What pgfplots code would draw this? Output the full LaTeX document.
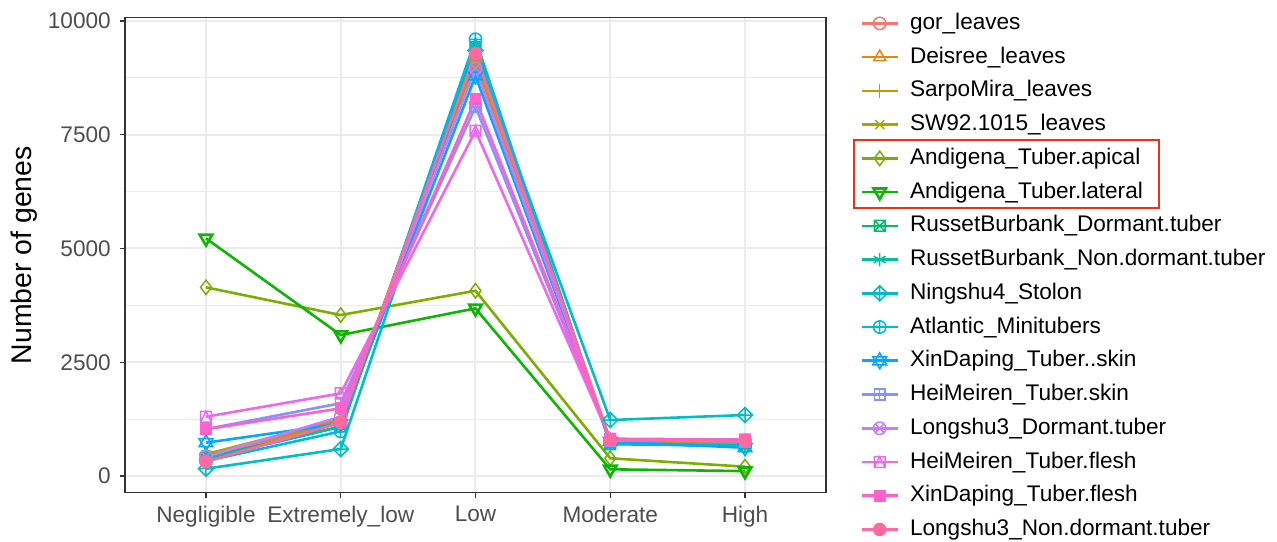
\documentclass[border=0pt]{standalone}
\usepackage{fontspec}
\setmainfont{Liberation Sans}
\usepackage{pgfplots}
\pgfplotsset{compat=1.18}

% ggplot hue palette, 16 levels
\definecolor{c1}{HTML}{F8766D}
\definecolor{c2}{HTML}{E68613}
\definecolor{c3}{HTML}{CD9600}
\definecolor{c4}{HTML}{ABA300}
\definecolor{c5}{HTML}{7CAE00}
\definecolor{c6}{HTML}{0CB702}
\definecolor{c7}{HTML}{00BE67}
\definecolor{c8}{HTML}{00C19A}
\definecolor{c9}{HTML}{00BFC4}
\definecolor{c10}{HTML}{00B8E7}
\definecolor{c11}{HTML}{00A9FF}
\definecolor{c12}{HTML}{8494FF}
\definecolor{c13}{HTML}{C77CFF}
\definecolor{c14}{HTML}{ED68ED}
\definecolor{c15}{HTML}{FF61CC}
\definecolor{c16}{HTML}{FF68A1}
\definecolor{gridc}{HTML}{EBEBEB}
\definecolor{frame}{HTML}{333333}
\definecolor{ticktxt}{HTML}{4D4D4D}
\definecolor{hl}{RGB}{240,50,20}

% extra ggplot-like point shapes
\pgfdeclareplotmark{sqtimes}{%
  \pgfpathrectangle{\pgfqpoint{-\pgfplotmarksize}{-\pgfplotmarksize}}{\pgfqpoint{2\pgfplotmarksize}{2\pgfplotmarksize}}%
  \pgfpathmoveto{\pgfqpoint{-\pgfplotmarksize}{-\pgfplotmarksize}}\pgfpathlineto{\pgfqpoint{\pgfplotmarksize}{\pgfplotmarksize}}%
  \pgfpathmoveto{\pgfqpoint{-\pgfplotmarksize}{\pgfplotmarksize}}\pgfpathlineto{\pgfqpoint{\pgfplotmarksize}{-\pgfplotmarksize}}%
  \pgfusepathqstroke}
\pgfdeclareplotmark{sqplus}{%
  \pgfpathrectangle{\pgfqpoint{-\pgfplotmarksize}{-\pgfplotmarksize}}{\pgfqpoint{2\pgfplotmarksize}{2\pgfplotmarksize}}%
  \pgfpathmoveto{\pgfqpoint{-\pgfplotmarksize}{0pt}}\pgfpathlineto{\pgfqpoint{\pgfplotmarksize}{0pt}}%
  \pgfpathmoveto{\pgfqpoint{0pt}{\pgfplotmarksize}}\pgfpathlineto{\pgfqpoint{0pt}{-\pgfplotmarksize}}%
  \pgfusepathqstroke}
\pgfdeclareplotmark{sqtri}{%
  \pgfpathrectangle{\pgfqpoint{-\pgfplotmarksize}{-\pgfplotmarksize}}{\pgfqpoint{2\pgfplotmarksize}{2\pgfplotmarksize}}%
  \pgfpathmoveto{\pgfqpoint{-\pgfplotmarksize}{-\pgfplotmarksize}}\pgfpathlineto{\pgfqpoint{0pt}{\pgfplotmarksize}}%
  \pgfpathlineto{\pgfqpoint{\pgfplotmarksize}{-\pgfplotmarksize}}%
  \pgfusepathqstroke}
\pgfdeclareplotmark{diaplus}{%
  \pgfpathmoveto{\pgfqpoint{0pt}{1.3\pgfplotmarksize}}\pgfpathlineto{\pgfqpoint{1.3\pgfplotmarksize}{0pt}}%
  \pgfpathlineto{\pgfqpoint{0pt}{-1.3\pgfplotmarksize}}\pgfpathlineto{\pgfqpoint{-1.3\pgfplotmarksize}{0pt}}\pgfpathclose
  \pgfpathmoveto{\pgfqpoint{-1.3\pgfplotmarksize}{0pt}}\pgfpathlineto{\pgfqpoint{1.3\pgfplotmarksize}{0pt}}%
  \pgfpathmoveto{\pgfqpoint{0pt}{1.3\pgfplotmarksize}}\pgfpathlineto{\pgfqpoint{0pt}{-1.3\pgfplotmarksize}}%
  \pgfusepathqstroke}
\pgfdeclareplotmark{david}{%
  \pgfpathmoveto{\pgfqpoint{0pt}{1.2\pgfplotmarksize}}\pgfpathlineto{\pgfqpoint{1.05\pgfplotmarksize}{-0.6\pgfplotmarksize}}%
  \pgfpathlineto{\pgfqpoint{-1.05\pgfplotmarksize}{-0.6\pgfplotmarksize}}\pgfpathclose
  \pgfpathmoveto{\pgfqpoint{0pt}{-1.2\pgfplotmarksize}}\pgfpathlineto{\pgfqpoint{1.05\pgfplotmarksize}{0.6\pgfplotmarksize}}%
  \pgfpathlineto{\pgfqpoint{-1.05\pgfplotmarksize}{0.6\pgfplotmarksize}}\pgfpathclose
  \pgfusepathqstroke}

\newcommand{\gfont}{\fontsize{11.3bp}{13bp}\selectfont}

\begin{document}
\begin{tikzpicture}
\path[use as bounding box] (-62.5bp,-24.65bp) rectangle (576bp,246.35bp);
\begin{axis}[
  at={(0,0)}, anchor=south west,
  scale only axis, width=350.5bp, height=237.5bp,
  xmin=0.399, xmax=5.601, ymin=-367, ymax=10072,
  xtick={1,2,3,4,5},
  xticklabels={Negligible,Extremely\_low,Low,Moderate,High},
  ytick={0,2500,5000,7500,10000},
  yticklabels={0,2500,5000,7500,10000},
  scaled y ticks=false,
  minor ytick={1250,3750,6250,8750},
  tick align=outside, tick pos=left,
  major tick length=2.6bp, minor tick length=0pt,
  every tick/.style={frame, line width=0.55bp},
  grid=both,
  major grid style={gridc, line width=1bp},
  minor grid style={gridc, line width=0.5bp},
  axis line style={frame, line width=0.6bp},
  tick label style={font=\gfont, text=ticktxt},
  xticklabel style={yshift=-0.5bp},
  yticklabel style={xshift=-1bp},
  ylabel={Number of genes},
  ylabel style={font=\fontsize{14.2bp}{16bp}\selectfont, at={(axis description cs:-0.144,0.5)}, anchor=center},
  every axis plot/.append style={line width=1.3bp, mark size=3.1bp, mark options={solid, line width=0.75bp}},
  legend cell align=left,
  legend image code/.code={\draw[mark repeat=2,mark phase=2] plot coordinates {(0bp,0bp) (9bp,0bp) (18bp,0bp)};},
  legend style={at={(axis description cs:1.040,1.0204)}, anchor=north west, draw=none, fill=none,
    font=\gfont, row sep=5.87bp, column sep=5.5bp,
    nodes={inner sep=0pt, text height=8.5bp, text depth=2.5bp}},
]
\addplot[c1, mark=o] coordinates {(1,420) (2,1180) (3,9200) (4,760) (5,720)};
\addlegendentry{gor\_leaves}
\addplot[c2, mark=triangle, mark size=3.5bp] coordinates {(1,450) (2,1220) (3,9180) (4,750) (5,700)};
\addlegendentry{Deisree\_leaves}
\addplot[c3, mark=+, mark size=3.5bp] coordinates {(1,480) (2,1240) (3,9150) (4,760) (5,710)};
\addlegendentry{SarpoMira\_leaves}
\addplot[c4, mark=x, mark size=3.2bp] coordinates {(1,470) (2,1200) (3,9120) (4,740) (5,690)};
\addlegendentry{SW92.1015\_leaves}
\addplot[c5, mark=diamond, mark size=3.6bp] coordinates {(1,4146) (2,3537) (3,4071) (4,389) (5,205)};
\addlegendentry{Andigena\_Tuber.apical}
\addplot[c6, mark=triangle, mark size=3.6bp, mark options={rotate=180}] coordinates {(1,5222) (2,3098) (3,3684) (4,147) (5,108)};
\addlegendentry{Andigena\_Tuber.lateral}
\addplot[c7, mark=sqtimes, mark size=2.7bp] coordinates {(1,400) (2,1090) (3,9430) (4,700) (5,660)};
\addlegendentry{RussetBurbank\_Dormant.tuber}
\addplot[c8, mark=asterisk, mark size=3.4bp] coordinates {(1,380) (2,1080) (3,9400) (4,710) (5,670)};
\addlegendentry{RussetBurbank\_Non.dormant.tuber}
\addplot[c9, mark=diaplus, mark size=2.9bp] coordinates {(1,160) (2,593) (3,9350) (4,1230) (5,1340)};
\addlegendentry{Ningshu4\_Stolon}
\addplot[c10, mark=oplus] coordinates {(1,330) (2,980) (3,9598) (4,720) (5,650)};
\addlegendentry{Atlantic\_Minitubers}
\addplot[c11, mark=david, mark size=3.3bp] coordinates {(1,732) (2,1150) (3,8790) (4,760) (5,620)};
\addlegendentry{XinDaping\_Tuber..skin}
\addplot[c12, mark=sqplus, mark size=2.7bp] coordinates {(1,1030) (2,1600) (3,8114) (4,780) (5,760)};
\addlegendentry{HeiMeiren\_Tuber.skin}
\addplot[c13, mark=otimes] coordinates {(1,424) (2,1303) (3,8957) (4,790) (5,780)};
\addlegendentry{Longshu3\_Dormant.tuber}
\addplot[c14, mark=sqtri, mark size=2.7bp] coordinates {(1,1303) (2,1816) (3,7586) (4,820) (5,800)};
\addlegendentry{HeiMeiren\_Tuber.flesh}
\addplot[c15, mark=square*, mark size=2.6bp] coordinates {(1,1026) (2,1487) (3,8283) (4,810) (5,790)};
\addlegendentry{XinDaping\_Tuber.flesh}
\addplot[c16, mark=*, mark size=3bp] coordinates {(1,315) (2,1171) (3,9287) (4,790) (5,770)};
\addlegendentry{Longshu3\_Non.dormant.tuber}
\draw[frame, line width=0.6bp] (rel axis cs:0,0) rectangle (rel axis cs:1,1);
\end{axis}
\draw[hl, line width=1bp] (364.5bp,142.35bp) rectangle (517bp,176.35bp);
\end{tikzpicture}
\end{document}
